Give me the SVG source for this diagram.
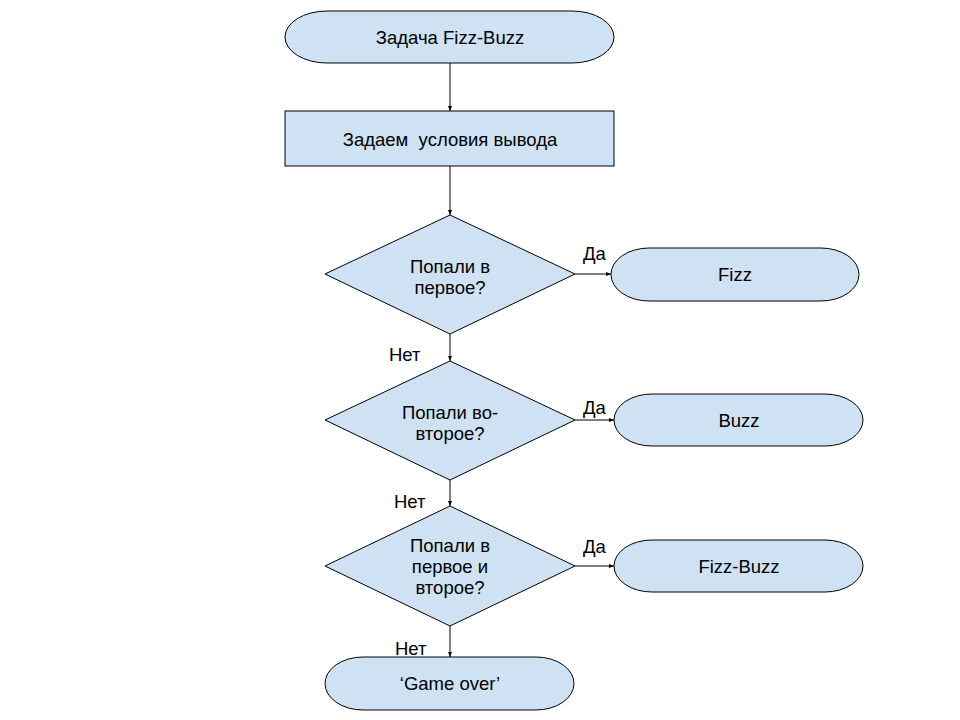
<svg xmlns="http://www.w3.org/2000/svg" width="960" height="720" viewBox="0 0 960 720">
<defs>
<style>
.n{fill:#cfe2f3;stroke:#000;stroke-width:1}
.t{font-family:"Liberation Sans",Arial,sans-serif;font-size:18.5px;fill:#000;text-anchor:middle}
.l{font-family:"Liberation Sans",Arial,sans-serif;font-size:18.5px;fill:#000}
.c{stroke:#000;stroke-width:1;fill:none;marker-end:url(#a)}
</style>
<marker id="a" viewBox="0 0 10 10" refX="10" refY="5" markerWidth="5" markerHeight="5" orient="auto" markerUnits="userSpaceOnUse"><path d="M0,1 L10,5 L0,9 z" fill="#000"/></marker>
</defs>
<rect width="960" height="720" fill="#fff"/>
<g id="connectors">
<path class="c" d="M450,63 V111"/>
<path class="c" d="M450,166 V215"/>
<path class="c" d="M575,274 H611"/>
<path class="c" d="M450,334 V361"/>
<path class="c" d="M575,420 H614"/>
<path class="c" d="M450,480 V506"/>
<path class="c" d="M575,566 H614"/>
<path class="c" d="M450,626 V657"/>
<text class="l" x="583" y="260">Да</text>
<text class="l" x="583" y="414">Да</text>
<text class="l" x="583" y="553">Да</text>
<text class="l" x="389" y="361">Нет</text>
<text class="l" x="394" y="508">Нет</text>
<text class="l" x="395" y="655">Нет</text>
</g>
<g id="start">
<rect class="n" x="285" y="11" width="329" height="52" rx="42" ry="26"/>
<text class="t" x="450" y="44">Задача Fizz-Buzz</text>
</g>
<g id="setup">
<rect class="n" x="285" y="111" width="329" height="55"/>
<text class="t" x="450" y="146" xml:space="preserve">Задаем  условия вывода</text>
</g>
<g id="d1">
<polygon class="n" points="450,215 575,274 450,334 325,274"/>
<text class="t" x="450" y="273">Попали в</text>
<text class="t" x="450" y="294">первое?</text>
</g>
<g id="fizz">
<rect class="n" x="611" y="248" width="248" height="53" rx="38" ry="26.5"/>
<text class="t" x="735" y="281">Fizz</text>
</g>
<g id="d2">
<polygon class="n" points="450,361 575,420 450,480 325,420"/>
<text class="t" x="450" y="419">Попали во-</text>
<text class="t" x="450" y="440">второе?</text>
</g>
<g id="buzz">
<rect class="n" x="614" y="394" width="249" height="52" rx="38" ry="26"/>
<text class="t" x="739" y="427">Buzz</text>
</g>
<g id="d3">
<polygon class="n" points="450,506 575,566 450,626 325,566"/>
<text class="t" x="450" y="552">Попали в</text>
<text class="t" x="450" y="573">первое и</text>
<text class="t" x="450" y="594">второе?</text>
</g>
<g id="fizzbuzz">
<rect class="n" x="614" y="540" width="249" height="52" rx="38" ry="26"/>
<text class="t" x="739" y="573">Fizz-Buzz</text>
</g>
<g id="gameover">
<rect class="n" x="325" y="657" width="249" height="53" rx="38" ry="26.5"/>
<text class="t" x="450" y="690">‘Game over’</text>
</g>
</svg>
